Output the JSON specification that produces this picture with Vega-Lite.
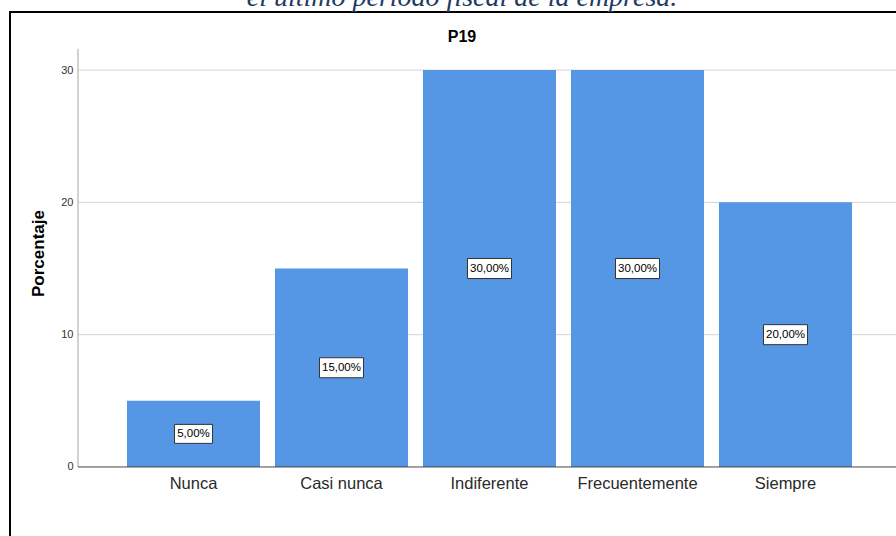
{
  "$schema": "https://vega.github.io/schema/vega-lite/v6.json",
  "width": 904,
  "height": 560,
  "autosize": {"type": "none"},
  "padding": {"left": 10, "top": 12, "right": 0, "bottom": 0},
  "background": "white",
  "title": {
    "text": "el último período fiscal de la empresa.",
    "subtitle": "P19",
    "anchor": "middle",
    "frame": "group",
    "orient": "top",
    "offset": -33,
    "font": "Liberation Serif",
    "fontStyle": "italic",
    "fontWeight": "normal",
    "fontSize": 28,
    "color": "#1F3A64",
    "subtitleFont": "Liberation Sans",
    "subtitleFontWeight": "bold",
    "subtitleFontSize": 16,
    "subtitleColor": "#000000",
    "subtitlePadding": 17
  },
  "config": {
    "view": {"stroke": "#000000", "strokeWidth": 2}
  },
  "datasets": {
    "respuestas": [
      {"categoria": "Nunca", "porcentaje": 5},
      {"categoria": "Casi nunca", "porcentaje": 15},
      {"categoria": "Indiferente", "porcentaje": 30},
      {"categoria": "Frecuentemente", "porcentaje": 30},
      {"categoria": "Siempre", "porcentaje": 20}
    ],
    "marcas": [{"v": 10}, {"v": 20}, {"v": 30}]
  },
  "layer": [
    {
      "data": {"name": "marcas"},
      "mark": {"type": "rule", "color": "#d4d4d4", "strokeWidth": 1},
      "encoding": {
        "x": {"datum": "Nunca", "type": "nominal", "bandPosition": -0.3684},
        "x2": {"datum": "Siempre", "bandPosition": 1.5},
        "y": {"field": "v", "type": "quantitative", "title": "Porcentaje"}
      }
    },
    {
      "data": {"values": [{}]},
      "mark": {"type": "rule", "color": "#a6a6a6", "strokeWidth": 1},
      "encoding": {
        "x": {"datum": "Nunca", "type": "nominal", "bandPosition": -0.3684},
        "y": {"datum": 0, "type": "quantitative"},
        "y2": {"datum": 31.6}
      }
    },
    {
      "data": {"name": "respuestas"},
      "mark": {"type": "bar", "color": "#5596E5"},
      "encoding": {
        "x": {
          "field": "categoria",
          "type": "nominal",
          "sort": null,
          "scale": {
            "domain": ["Nunca", "Casi nunca", "Indiferente", "Frecuentemente", "Siempre"],
            "paddingInner": 0.10135,
            "paddingOuter": 0.6047,
            "align": 0.6536
          },
          "axis": {
            "orient": "bottom",
            "offset": -105,
            "domain": false,
            "ticks": false,
            "grid": false,
            "labelAngle": 0,
            "labelAlign": "center",
            "labelFont": "Liberation Sans",
            "labelFontSize": 16.5,
            "labelColor": "#2a2a2a",
            "labelPadding": 16,
            "title": null
          }
        },
        "y": {
          "field": "porcentaje",
          "type": "quantitative",
          "title": "Porcentaje",
          "scale": {"domain": [-7.94, 34.39], "nice": false, "zero": false},
          "axis": {
            "orient": "left",
            "offset": -68,
            "values": [0, 10, 20, 30],
            "domain": false,
            "ticks": false,
            "grid": false,
            "labelFont": "Liberation Sans",
            "labelFontSize": 11,
            "labelColor": "#333333",
            "labelPadding": 5,
            "titleFont": "Liberation Sans",
            "titleFontSize": 17,
            "titleFontWeight": "bold",
            "titleColor": "#000000",
            "titlePadding": 13,
            "titleY": 241
          }
        }
      }
    },
    {
      "data": {"values": [{}]},
      "mark": {"type": "rule", "color": "#444444", "strokeWidth": 1},
      "encoding": {
        "x": {"datum": "Nunca", "type": "nominal", "bandPosition": -0.3684},
        "x2": {"datum": "Siempre", "bandPosition": 1.5},
        "y": {"datum": 0, "type": "quantitative"}
      }
    },
    {
      "data": {"name": "respuestas"},
      "mark": {"type": "point", "filled": true, "fill": "#ffffff", "stroke": "#333333", "strokeWidth": 1, "opacity": 1},
      "encoding": {
        "x": {"field": "categoria", "type": "nominal"},
        "y": {"field": "porcentaje", "type": "quantitative", "stack": "zero", "bandPosition": 0.5},
        "shape": {
          "condition": {"test": "datum.porcentaje < 10", "value": "M-1,-0.5H1V0.5H-1Z"},
          "value": "M-1,-0.4545H1V0.4545H-1Z"
        },
        "size": {
          "condition": {"test": "datum.porcentaje < 10", "value": 1444},
          "value": 1936
        }
      }
    },
    {
      "data": {"name": "respuestas"},
      "mark": {
        "type": "text",
        "font": "Liberation Sans",
        "fontSize": 11.5,
        "color": "#000000",
        "baseline": "middle",
        "align": "center",
        "text": {"expr": "replace(format(datum.porcentaje, '.2f'), '.', ',') + '%'"}
      },
      "encoding": {
        "x": {"field": "categoria", "type": "nominal"},
        "y": {"field": "porcentaje", "type": "quantitative", "stack": "zero", "bandPosition": 0.5}
      }
    }
  ]
}
